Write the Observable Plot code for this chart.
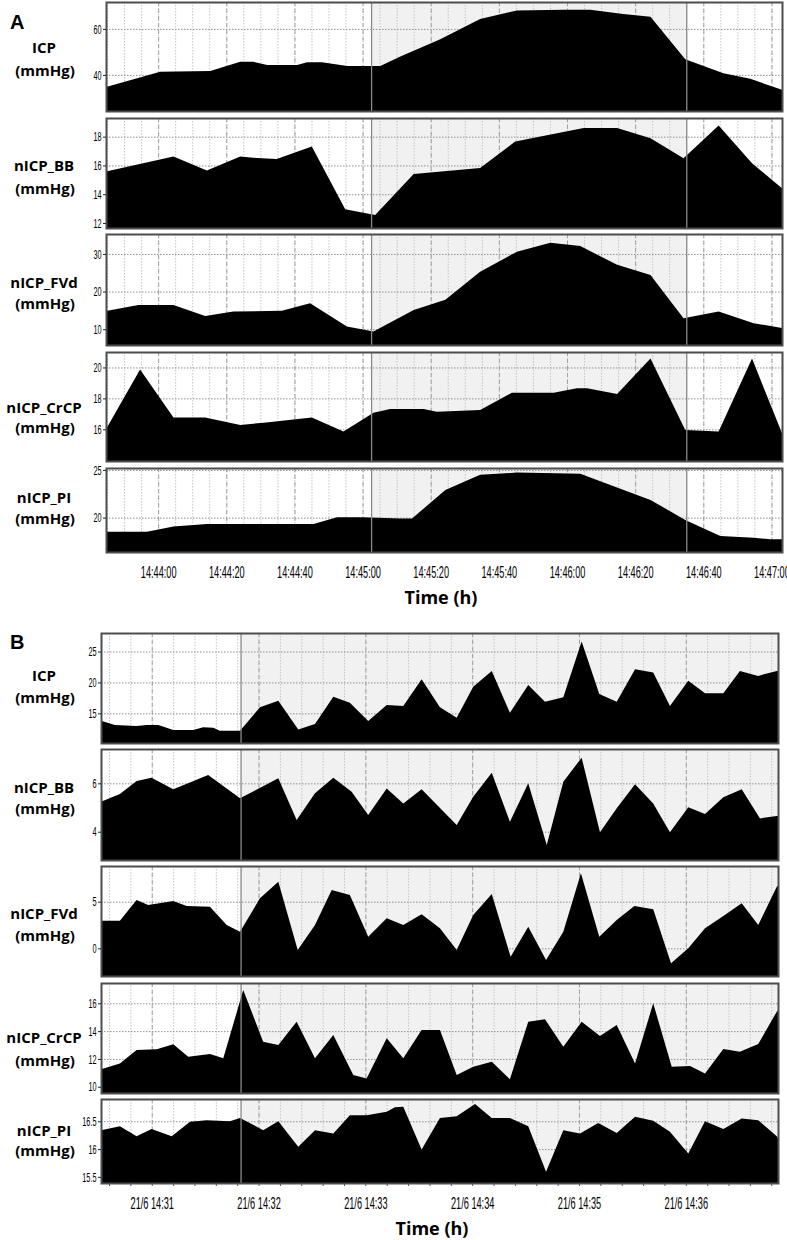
<!DOCTYPE html>
<html><head><meta charset="utf-8">
<script src="https://cdn.jsdelivr.net/npm/d3@7"></script>
<script src="https://cdn.jsdelivr.net/npm/@observablehq/plot@0.6"></script>
<style>
html,body{margin:0;padding:0;background:#fff;width:787px;height:1240px;overflow:hidden;}
#root{position:relative;width:787px;height:1240px;}
.lab{position:absolute;font-family:"Open Sans",sans-serif;font-weight:700;font-size:15px;color:#000;transform:translate(-50%,-50%);white-space:nowrap;line-height:1;}
.panel{position:absolute;font-family:"Liberation Sans",Arial,sans-serif;font-weight:700;font-size:20px;transform:translate(0,-50%);line-height:1;}
.tl{position:absolute;font-family:"Open Sans",sans-serif;font-weight:700;font-size:18px;transform:translate(-50%,-50%);white-space:nowrap;line-height:1;}
.row{position:absolute;left:0;}
</style></head><body><div id="root"></div><script>
// ---------- Panel A data: [seconds after 14:44:00, mmHg] ----------
const aICP = [[-15.3,34.7],[0.6,41.4],[15.3,41.7],[24.1,45.7],[27.9,45.7],[32.0,44.3],[40.8,44.3],[43.7,45.5],[48.1,45.5],[55.5,43.9],[65.2,43.9],[71.1,48.0],[82.8,55.5],[94.5,64.3],[105.3,68.0],[118.9,68.3],[126.8,68.3],[136.5,66.5],[144.5,65.3],[154.7,46.8],[165.9,40.7],[173.8,38.3],[183.1,33.5]];
const aBB = [[-15.3,15.58],[4.5,16.63],[14.3,15.65],[24.1,16.63],[29.0,16.51],[34.8,16.44],[45.1,17.32],[54.9,12.95],[63.7,12.56],[75.0,15.4],[94.5,15.82],[104.8,17.67],[124.9,18.6],[134.7,18.6],[144.5,17.9],[154.2,16.5],[164.5,18.77],[174.3,16.16],[183.1,14.42]];
const aFVd = [[-15.3,14.85],[-5.8,16.45],[4.5,16.45],[13.8,13.5],[22.1,14.7],[36.3,14.9],[44.6,16.9],[55.4,10.7],[63.2,9.36],[75.0,15.1],[84.3,17.8],[94.5,25.3],[105.3,30.6],[115.1,33.0],[123.9,32.1],[134.7,27.1],[144.5,24.4],[154.2,12.9],[164.5,14.7],[174.8,11.6],[183.1,10.3]];
const aCrCP = [[-15.3,16.0],[-5.3,19.87],[4.5,16.77],[13.8,16.77],[24.1,16.28],[31.0,16.43],[45.1,16.77],[54.4,15.85],[63.2,17.07],[68.1,17.31],[77.9,17.31],[81.8,17.14],[94.5,17.25],[103.8,18.36],[116.1,18.36],[122.9,18.65],[125.9,18.65],[134.7,18.28],[144.5,20.58],[154.7,15.95],[164.5,15.85],[174.3,20.58],[183.1,15.74]];
const aPI = [[-15.3,18.53],[-3.3,18.53],[4.5,19.06],[14.3,19.34],[45.6,19.34],[52.5,20.04],[59.8,20.04],[71.1,19.9],[74.5,19.9],[84.3,22.9],[94.5,24.48],[105.3,24.72],[123.9,24.59],[144.5,21.86],[154.7,19.76],[165.0,18.08],[174.8,17.9],[179.7,17.73],[183.1,17.73]];

// ---------- Panel B data: [seconds after 21/6 14:31:00, mmHg] ----------
const bICP = [[-28.5,13.8],[-20.7,13.1],[-8.5,12.94],[-2.9,13.1],[3.7,13.1],[12.1,12.29],[23.3,12.29],[28.9,12.73],[34.6,12.66],[38.3,12.18],[49.6,12.18],[60.8,15.97],[71.1,17.05],[82.3,12.4],[91.7,13.26],[102.0,17.7],[111.3,16.72],[121.6,13.75],[132.0,16.35],[141.3,16.19],[151.6,20.52],[161.9,15.97],[171.3,14.29],[180.6,19.32],[191.0,21.87],[201.2,15.1],[211.5,19.6],[220.9,16.88],[231.2,17.6],[241.5,26.62],[251.4,18.13],[261.2,16.88],[271.5,22.14],[281.7,21.59],[291.1,16.19],[301.4,20.29],[310.8,18.25],[321.1,18.25],[330.4,21.87],[340.7,21.06],[351.1,21.87],[351.8,21.87]];
const bBB = [[-28.5,5.24],[-17.9,5.56],[-8.5,6.1],[-0.1,6.23],[12.1,5.76],[31.7,6.34],[49.6,5.38],[71.1,6.21],[81.4,4.48],[91.7,5.59],[102.0,6.23],[112.3,5.65],[121.6,4.69],[132.0,5.79],[141.3,5.17],[151.6,5.76],[171.3,4.28],[180.6,5.45],[191.0,6.44],[201.2,4.41],[211.5,6.0],[221.9,3.45],[231.2,6.07],[241.5,7.06],[251.8,3.98],[261.2,4.97],[271.5,5.96],[281.7,5.17],[291.1,3.98],[301.4,5.01],[310.8,4.73],[321.1,5.42],[331.4,5.76],[341.7,4.55],[351.1,4.65],[351.8,4.65]];
const bFVd = [[-28.5,2.96],[-17.9,2.96],[-8.5,5.18],[-2.0,4.65],[12.1,5.08],[19.6,4.54],[32.7,4.46],[42.1,2.5],[49.6,1.78],[60.8,5.36],[71.1,7.14],[82.0,-0.18],[91.7,2.5],[101.1,6.25],[111.3,5.72],[121.6,1.25],[132.0,3.22],[141.3,2.5],[151.6,3.65],[161.9,2.15],[171.3,-0.18],[180.6,3.57],[191.0,5.83],[201.6,-0.9],[211.5,2.32],[221.5,-1.25],[231.2,1.78],[241.1,8.04],[251.4,1.25],[261.2,3.04],[271.1,4.54],[281.7,4.19],[291.7,-1.6],[301.4,0.0],[310.8,2.15],[321.1,3.47],[331.4,4.83],[340.7,2.5],[351.1,6.61],[351.8,6.7]];
const bCrCP = [[-28.5,11.25],[-17.9,11.68],[-8.5,12.64],[2.8,12.69],[12.1,13.05],[20.5,12.16],[32.7,12.35],[40.2,12.04],[51.4,16.96],[62.6,13.24],[71.1,13.0],[81.4,14.68],[91.7,12.04],[102.0,13.72],[113.2,10.84],[120.7,10.6],[132.0,13.48],[141.3,12.04],[151.6,14.08],[161.9,14.08],[171.3,10.84],[180.6,11.44],[191.0,11.8],[201.2,10.53],[211.5,14.68],[220.9,14.85],[231.2,12.88],[241.5,14.68],[251.8,13.65],[261.2,14.44],[271.5,11.68],[281.7,16.0],[292.1,11.44],[302.4,11.49],[310.8,10.96],[321.1,12.71],[330.4,12.52],[340.7,13.07],[351.1,15.4],[351.8,15.5]];
const bPI = [[-28.5,16.34],[-17.9,16.41],[-8.5,16.23],[-0.1,16.36],[11.2,16.23],[21.5,16.49],[30.8,16.52],[43.9,16.5],[49.6,16.56],[62.6,16.34],[71.1,16.5],[82.3,16.04],[91.7,16.34],[102.0,16.28],[111.3,16.61],[120.7,16.61],[132.0,16.67],[136.6,16.75],[141.3,16.76],[151.6,15.99],[161.9,16.56],[171.3,16.59],[181.6,16.81],[191.0,16.56],[201.2,16.56],[211.5,16.41],[221.5,15.59],[231.2,16.34],[240.6,16.28],[250.8,16.47],[261.2,16.29],[271.5,16.58],[281.7,16.51],[291.1,16.31],[301.4,15.92],[310.8,16.5],[321.1,16.36],[331.4,16.55],[340.7,16.52],[351.1,16.23],[351.8,16.2]];

// Labels and ticks
const rowLabels = ["ICP", "nICP_BB", "nICP_FVd", "nICP_CrCP", "nICP_PI"];
const unitLabel = "(mmHg)";
const aYTicks = [[40,60],[12,14,16,18],[10,20,30],[16,18,20],[20,25]];
const bYTicks = [[15,20,25],[4,6],[0,5],[10,12,14,16],[15.5,16,16.5]];
const aYDomains = [[24.3,71.7],[11.65,19.3],[5.8,35.3],[13.95,21],[16.4,25.2]];
const bYDomains = [[10.2,28],[2.83,7.42],[-2.97,8.83],[9.55,17.46],[15.39,16.9]];
const aXDomain = [-15.3, 183.1];   // seconds after 14:44:00
const bXDomain = [-28.5, 351.8];   // seconds after 14:31:00
const aShade = [62.5, 155.0];
const bShade = [49.9, 351.8];
const axisTitle = "Time (h)";

// ---------- layout ----------
const W = 787;
const aBase = Date.UTC(2016,5,21,14,44,0);
const bBase = Date.UTC(2016,5,21,14,31,0);
const aRows = [[2,111],[118,228],[234,345],[352,461],[468,552]];
const bRows = [[633,743],[749,860],[866,976],[983,1093],[1099,1183]];
const aLabY = [[47,70],[165,188],[282,303],[407,427],[497,518]];
const bLabY = [[675,697],[787,808],[913,935],[1037,1060],[1130,1150]];

const root = document.getElementById("root");

function compress(svg, sel, k) {
  svg.querySelectorAll(sel).forEach(t => {
    const w = t.getComputedTextLength();
    if (w > 0) { t.setAttribute("textLength", (w * k).toFixed(1)); t.setAttribute("lengthAdjust", "spacingAndGlyphs"); }
  });
}

function drawRow(o) {
  const {top, bottom, left, right, base, xDomain, yDomain, yTicks, data, shade, minorEvery, major, xAxis, fmt, minorTicks} = o;
  const T = s => new Date(base + s * 1000);
  const x0 = T(xDomain[0]), x1 = T(xDomain[1]);
  const pts = data.map(([t, v]) => ({t: T(t), v}));
  const ymin = yDomain[0];
  const minor = minorEvery(x0, x1);
  const majors = major(x0, x1);
  const mt = 8, mb = xAxis ? 40 : 8;
  const shadeEdges = [T(shade[0])];
  if (shade[1] < xDomain[1] - 0.5) shadeEdges.push(T(shade[1]));
  const marks = [
    Plot.rect([{a: T(shade[0]), b: T(shade[1])}], {x1: "a", x2: "b", fill: "#f1f1f1"}),
    Plot.ruleX(minor, {stroke: "#c4c4c4", strokeWidth: 1, strokeDasharray: "1.5,1.5"}),
    Plot.ruleX(majors, {stroke: "#a0a0a0", strokeWidth: 1, strokeDasharray: "4,3"}),
    Plot.ruleY(yTicks, {stroke: "#909090", strokeWidth: 1, strokeDasharray: "1.5,1.5"}),
    Plot.area(pts, {x1: "t", y1: () => ymin, y2: "v", fill: "#000", curve: "linear"}),
    Plot.ruleX(shadeEdges, {stroke: "#8a8a8a", strokeWidth: 1.3}),
    Plot.frame({stroke: "#4d4d4d", strokeWidth: 2}),
    Plot.axisY(yTicks, {tickSize: 3, tickPadding: 2, fontSize: 13, stroke: "#222", label: null, tickFormat: d => String(d)})
  ];
  if (xAxis) {
    if (minorTicks) marks.push(Plot.axisX(minor, {tickSize: 3, tickFormat: () => "", stroke: "#555", label: null}));
    marks.push(Plot.axisX(majors, {tickSize: 0, tickPadding: 13, fontSize: 17, tickFormat: fmt, label: null}));
  }
  const svg = Plot.plot({
    width: W,
    height: bottom - top + mt + mb,
    marginTop: mt, marginBottom: mb, marginLeft: left, marginRight: W - right,
    style: {background: "transparent", overflow: "visible", fontFamily: "'Liberation Sans', Arial, sans-serif", color: "#000"},
    x: {type: "utc", domain: [x0, x1], axis: xAxis ? undefined : null, label: null},
    y: {domain: yDomain, label: null},
    marks
  });
  const div = document.createElement("div");
  div.className = "row";
  div.style.top = (top - mt) + "px";
  div.appendChild(svg);
  root.appendChild(div);
  compress(svg, 'g[aria-label="y-axis tick label"] text', 0.56);
  compress(svg, 'g[aria-label="x-axis tick label"] text', 0.54);
}

function addText(cls, txt, x, y) {
  const d = document.createElement("div");
  d.className = cls; d.textContent = txt;
  d.style.left = x + "px"; d.style.top = y + "px";
  root.appendChild(d);
}

const aSeries = [aICP, aBB, aFVd, aCrCP, aPI];
const bSeries = [bICP, bBB, bFVd, bCrCP, bPI];

aSeries.forEach((data, i) => drawRow({
  top: aRows[i][0], bottom: aRows[i][1], left: 106, right: 782, base: aBase,
  xDomain: aXDomain, yDomain: aYDomains[i], yTicks: aYTicks[i], data, shade: aShade,
  minorEvery: (a, b) => d3.utcSecond.every(5).range(a, b),
  major: (a, b) => d3.utcSecond.every(20).range(a, b),
  xAxis: i === 4, fmt: d3.utcFormat("%H:%M:%S"), minorTicks: false
}));
bSeries.forEach((data, i) => drawRow({
  top: bRows[i][0], bottom: bRows[i][1], left: 101, right: 778, base: bBase,
  xDomain: bXDomain, yDomain: bYDomains[i], yTicks: bYTicks[i], data, shade: bShade,
  minorEvery: (a, b) => d3.utcSecond.every(12).range(a, b),
  major: (a, b) => d3.utcMinute.range(a, b),
  xAxis: i === 4, fmt: d3.utcFormat("%-d/%-m %H:%M"), minorTicks: true
}));

rowLabels.forEach((lab, i) => {
  addText("lab", lab, 44, aLabY[i][0]);
  addText("lab", unitLabel, 45, aLabY[i][1]);
  addText("lab", lab, 44, bLabY[i][0]);
  addText("lab", unitLabel, 45, bLabY[i][1]);
});
addText("panel", "A", 10, 22);
addText("panel", "B", 10, 642);
addText("tl", axisTitle, 441, 597);
addText("tl", axisTitle, 432, 1228);
</script></body></html>
